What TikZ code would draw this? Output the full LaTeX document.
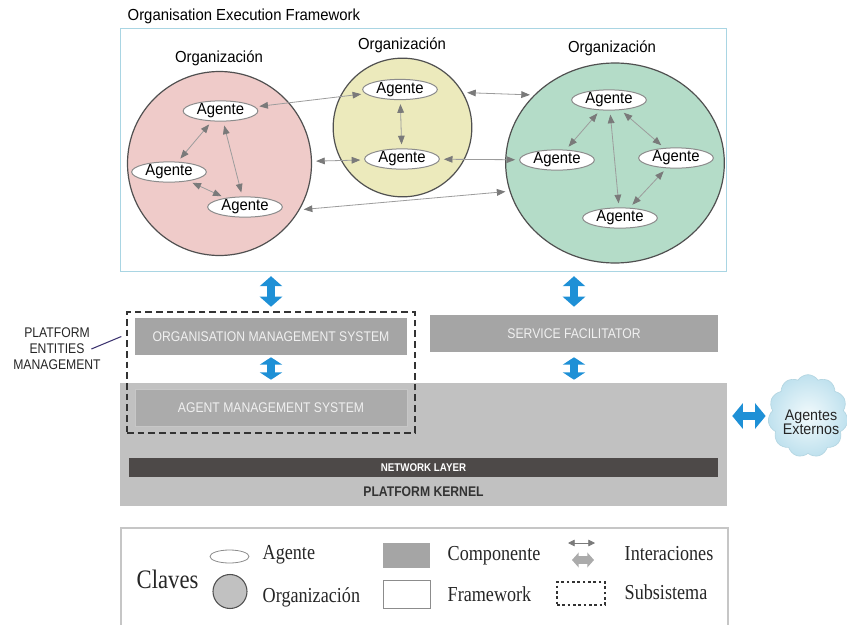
\documentclass[tikz,border=0pt]{standalone}
\usepackage{fontspec}
\setmainfont{Liberation Sans}
\newfontfamily\msans{Liberation Sans}[FakeStretch=0.93]
\newfontfamily\nsans{Liberation Sans}[FakeStretch=0.87]
\newfontfamily\lserif{Liberation Serif}[FakeStretch=0.85]
\usetikzlibrary{arrows.meta,shapes.geometric,shapes.symbols,calc}

\definecolor{orgline}{HTML}{505050}
\definecolor{pinkorg}{HTML}{EFCBC9}
\definecolor{yelloworg}{HTML}{ECEABC}
\definecolor{greenorg}{HTML}{B4DCC8}
\definecolor{agentline}{HTML}{8C8C8C}
\definecolor{ialine}{HTML}{9C9C9C}
\definecolor{iatip}{HTML}{7A7A7A}
\definecolor{fwline}{HTML}{A9D5E3}
\definecolor{compgray}{HTML}{A5A5A5}
\definecolor{amsgray}{HTML}{ABABAB}
\definecolor{kernelgray}{HTML}{C1C1C1}
\definecolor{comptext}{HTML}{F0F0F0}
\definecolor{netgray}{HTML}{4D4948}
\definecolor{subline}{HTML}{333333}
\definecolor{flowblue}{HTML}{1E90D6}
\definecolor{pemline}{HTML}{3D3470}
\definecolor{cloudin}{HTML}{F2FAFC}
\definecolor{cloudout}{HTML}{BFE1EE}
\definecolor{cloudline}{HTML}{B4D6E2}
\definecolor{legline}{HTML}{C6C6C6}

\begin{document}
\begin{tikzpicture}[x=0.75pt,y=-0.75pt,
  org/.style={circle, draw=orgline, line width=0.9pt, inner sep=0pt},
  orglabel/.style={font=\msans\fontsize{12}{14}\selectfont},
  agent/.style={ellipse, draw=agentline, line width=0.75pt, fill=white,
    minimum width=56pt, minimum height=14pt, inner sep=0pt,
    font=\msans\fontsize{12}{14}\selectfont},
  ia/.style={draw=ialine, line width=0.6pt,
    {Triangle[length=6.5pt,width=5pt,color=iatip]}-{Triangle[length=6.5pt,width=5pt,color=iatip]},
    shorten <=3pt, shorten >=3pt},
  comp/.style={fill=compgray, inner sep=0pt, text=comptext,
    font=\nsans\fontsize{10.5}{12}\selectfont},
  flow/.style={draw=flowblue, line width=6pt,
    {Triangle[length=#1,width=16.5pt]}-{Triangle[length=#1,width=16.5pt]}},
  flow/.default=7.5pt,
  legtext/.style={anchor=base west, font=\lserif\fontsize{16}{18}\selectfont, text=black!85}
]
\useasboundingbox (0,0) rectangle (847,625);

% ---------- Organisation Execution Framework ----------
\node[anchor=base west, font=\msans\fontsize{12}{14}\selectfont] (title) at (123,20) {Organisation Execution Framework};
\node[draw=fwline, line width=0.9pt, fill=white, minimum width=454.5pt, minimum height=182.25pt,
      inner sep=0pt, anchor=north west] (fw) at (120,28) {};

% organisations
\node[org, fill=pinkorg, minimum size=138pt] (pink) at (219.5,163.5) {};
\node[org, fill=yelloworg, minimum size=104pt] (yellow) at (402.5,127.5) {};
\node[ellipse, draw=orgline, line width=0.9pt, fill=greenorg, inner sep=0pt,
      minimum width=164pt, minimum height=150pt] (green) at (615,163) {};

\node[orglabel] (lpink) at (219,58) {Organización};
\node[orglabel] (lyellow) at (402,45) {Organización};
\node[orglabel] (lgreen) at (612,48) {Organización};

% agents
\node[agent] (p1) at (220.5,111) {Agente};
\node[agent] (p2) at (169,172) {Agente};
\node[agent] (p3) at (245,207) {Agente};
\node[agent] (y1) at (400,89.5) {Agente};
\node[agent] (y2) at (402,159) {Agente};
\node[agent] (g1) at (609,100) {Agente};
\node[agent] (g2) at (557,160) {Agente};
\node[agent] (g3) at (676,158) {Agente};
\node[agent] (g4) at (620,218) {Agente};

% interactions
\draw[ia] (p1) -- (p2);
\draw[ia] (p1) -- (p3);
\draw[ia] (p2) -- (p3);
\draw[ia] (y1) -- (y2);
\draw[ia] (g1) -- (g2);
\draw[ia] (g1) -- (g3);
\draw[ia] (g1) -- (g4);
\draw[ia] (g3) -- (g4);
\draw[ia] (p1) -- (y1);
\draw[ia] (pink) -- (y2);
\draw[ia] (y2) -- (g2);
\draw[ia] (yellow.30) -- (green.140);
\draw[ia] (pink.-30) -- (green.195);

% ---------- platform ----------
\node[fill=kernelgray, minimum width=455.25pt, minimum height=92.25pt, inner sep=0pt] (kernel) at (423.5,444.5) {};
\node[fill=netgray, minimum width=441.75pt, minimum height=14.25pt, inner sep=0pt, text=white,
      font=\nsans\bfseries\fontsize{8.4}{10}\selectfont] (net) at (423.5,467.5) {NETWORK LAYER};
\node[font=\nsans\bfseries\fontsize{10.5}{12}\selectfont, text=black!80] (klabel) at (423.5,492) {PLATFORM KERNEL};

\node[comp, fill=amsgray, draw=kernelgray!90!white, line width=0.6pt, minimum width=204pt, minimum height=27.75pt] (ams) at (271,407.5) {AGENT MANAGEMENT SYSTEM};
\node[comp, minimum width=204pt, minimum height=27.75pt] (oms) at (271,336.5) {ORGANISATION MANAGEMENT SYSTEM};
\node[comp, minimum width=216pt, minimum height=27.75pt] (sf) at (574,333.5) {SERVICE FACILITATOR};

\node[draw=subline, dash pattern=on 5pt off 3pt, line width=1pt, minimum width=216pt,
      minimum height=90.75pt, inner sep=0pt] (sub) at (271,372.5) {};

% entities label
\node[align=center, font=\nsans\fontsize{10.5}{12}\selectfont, text=black!85] (pem) at (57,349) {PLATFORM\\ENTITIES\\MANAGEMENT};
\coordinate (pemtip) at ($(sub.west |- oms.center)+(-5,0)$);
\draw[draw=pemline, line width=0.8pt] ($(pem.east)+(-14,0)$) -- (pemtip);

% external agents
\node[cloud, cloud puffs=11, cloud puff arc=115, aspect=1, minimum width=60pt, minimum height=62pt,
      inner sep=0pt, draw=cloudline, line width=0.5pt, inner color=cloudin, outer color=cloudout] (ext) at (808,416) {};
\node[align=center, font=\msans\fontsize{11.5}{10.5}\selectfont, text=black!85] (extlabel) at (811,422) {Agentes\\Externos};

% flows between layers
\draw[flow, shorten <=3pt, shorten >=8.25pt] (oms.north |- fw.south) -- (oms.north);
\draw[flow, shorten <=3pt, shorten >=6pt] (sf.north |- fw.south) -- (sf.north);
\draw[flow=5.5pt, shorten <=1.5pt, shorten >=2.25pt] (oms.south) -- (oms.south |- kernel.north);
\draw[flow=5.5pt, shorten <=3.75pt, shorten >=2.25pt] (sf.south) -- (sf.south |- kernel.north);
\draw[draw=flowblue, line width=6pt, {Triangle[length=8pt,width=19pt]}-{Triangle[length=8pt,width=19pt]},
      shorten <=3.75pt, shorten >=2.25pt] (kernel.east |- ext.west) -- (ext.west);

% ---------- legend ----------
\draw[draw=legline, line width=1.2pt] (121,640) -- (121,528) -- (728,528) -- (728,640);
\node[anchor=base west, font=\lserif\fontsize{20}{22}\selectfont, text=black!85] (claves) at (132,588) {Claves};

\node[ellipse, draw=agentline, line width=0.6pt, fill=white, minimum width=29.25pt, minimum height=9.75pt, inner sep=0pt] (kagent) at (229.5,556.5) {};
\node[legtext] (tagent) at (258,559) {Agente};
\node[circle, draw=orgline, line width=0.8pt, fill=kernelgray, minimum size=25.5pt, inner sep=0pt] (korg) at (230,591.5) {};
\node[legtext] (torg) at (258,602) {Organización};

\node[fill=compgray, minimum width=35.25pt, minimum height=18.75pt, inner sep=0pt] (kcomp) at (406.5,555.5) {};
\node[legtext] (tcomp) at (443,560) {Componente};
\node[draw=agentline, line width=0.6pt, minimum width=35.25pt, minimum height=21pt, inner sep=0pt] (kfw) at (406.5,594) {};
\node[legtext] (tfw) at (443,601) {Framework};

\coordinate (ka1) at (568,543);
\coordinate (ka2) at (595,543);
\draw[draw=iatip, line width=0.6pt, {Triangle[length=5pt,width=5pt]}-{Triangle[length=5pt,width=5pt]}] (ka1) -- (ka2);
\coordinate (kb1) at (572,560);
\coordinate (kb2) at (594,560);
\draw[draw=black!33, line width=6pt, {Triangle[length=5pt,width=11pt]}-{Triangle[length=5pt,width=11pt]}] (kb1) -- (kb2);
\node[legtext] (tia) at (620,560) {Interaciones};

\node[draw=subline, dash pattern=on 2pt off 2pt, line width=0.8pt, minimum width=36pt, minimum height=17.25pt, inner sep=0pt] (ksub) at (581,593.5) {};
\node[legtext] (tsub) at (620,599) {Subsistema};
\end{tikzpicture}
\end{document}
